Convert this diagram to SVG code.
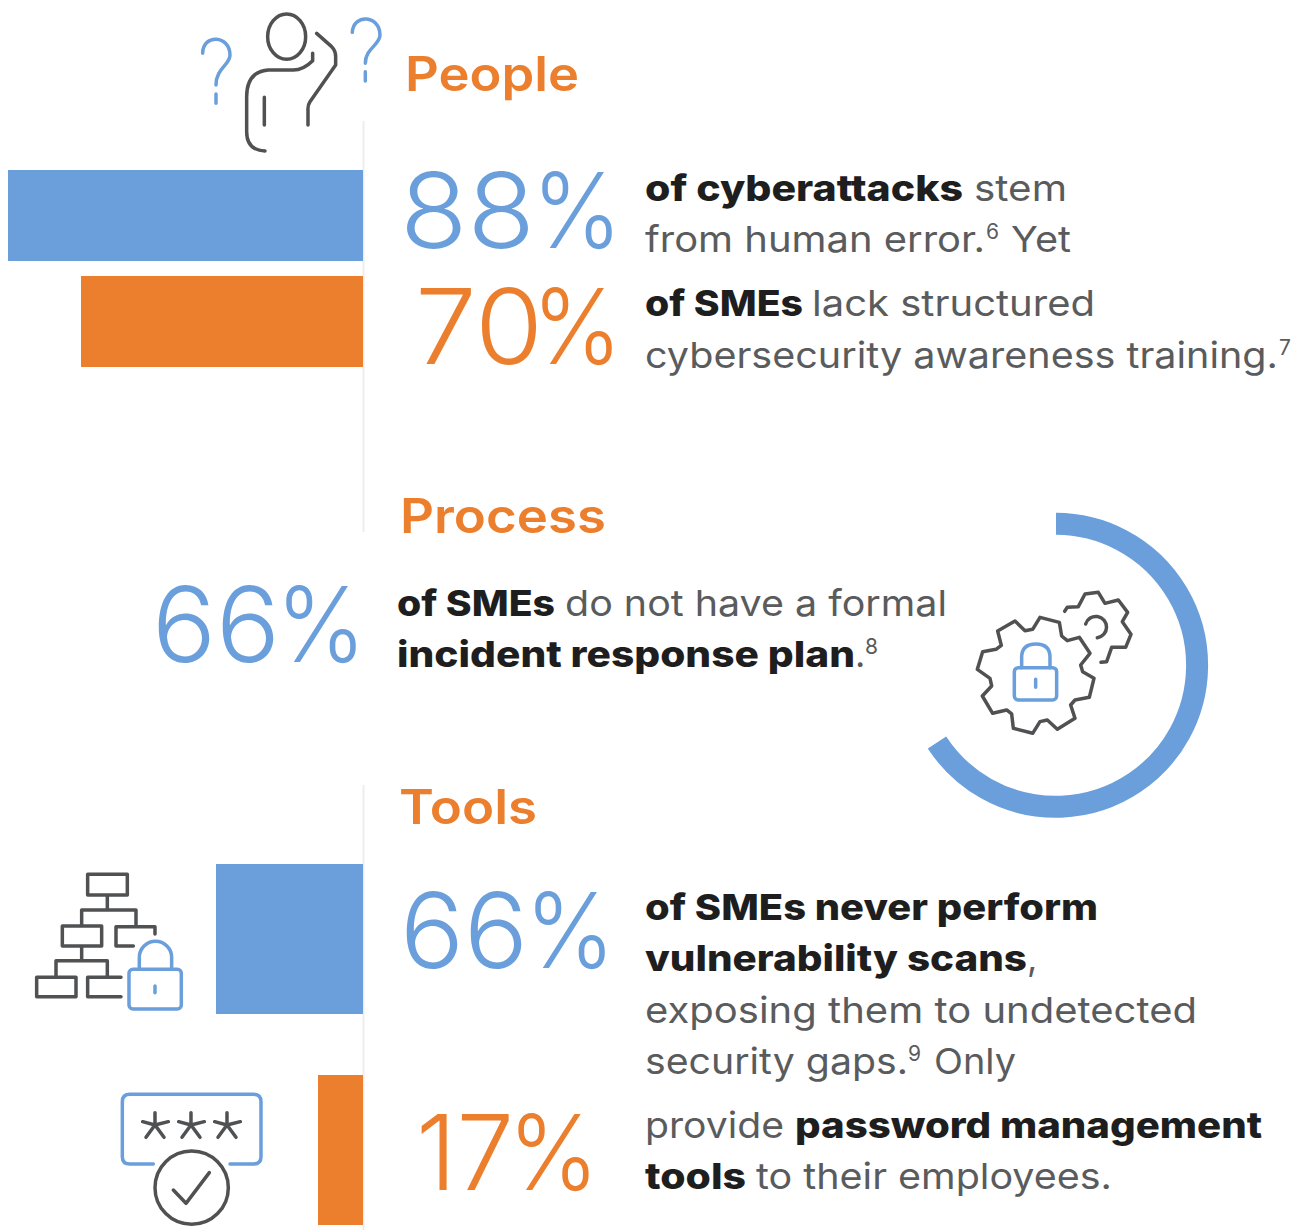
<svg xmlns="http://www.w3.org/2000/svg" width="1304" height="1230" viewBox="0 0 1304 1230">
<style>
text{font-family:"Inter","Liberation Sans",sans-serif}
.h{font-size:48px;font-weight:600;fill:#EB7F2E}
.nb,.no{font-size:104px;font-weight:300}
.nb{fill:#6A9FDB}.no{fill:#EB7F2E}
.b{font-size:36px;font-weight:800;fill:#1E1E1E}
.r{font-size:36px;font-weight:400;fill:#5A5B5D}
.s{font-size:21px;font-weight:400;fill:#5A5B5D}
.ic{fill:none;stroke:#505153;stroke-width:10.500;stroke-linecap:round;stroke-linejoin:round}
.ib{fill:none;stroke:#6A9FDB;stroke-width:10.500;stroke-linecap:round;stroke-linejoin:round}
.bb{fill:#6A9FDB}.bo{fill:#EB7F2E}
</style>
<g id="axis" fill="none" stroke="#EDEDED" stroke-width="2">
<path d="M363.500 121V532M363.500 785V1230"/>
</g>
<g id="people">
<rect class="bb" x="8" y="170" width="355" height="91"/>
<rect class="bo" x="81" y="276" width="282" height="91"/>
<g transform="translate(190,0) scale(.3333)">
<ellipse class="ic" cx="290" cy="110" rx="57" ry="68"/>
<path class="ic" d="M368,160V182Q340,210 310,210H235Q170,215 170,290V395Q170,450 225,453M223,292V375M380,100L425,140Q437,152 437,170V195L360,305Q353,315 354,330V375"/>
<path class="ib" d="M38,160C38,100 120,105 120,165C120,195 78,205 78,255M78,282V310M487,97C490,40 570,45 570,105C570,135 526,145 526,190M526,215V243"/>
</g>
<text class="h" x="405" y="91" textLength="174" lengthAdjust="spacingAndGlyphs">People</text>
<text class="nb" x="400" y="248" textLength="135" lengthAdjust="spacingAndGlyphs">88</text>
<text class="nb" x="532" y="248" textLength="90" lengthAdjust="spacingAndGlyphs">%</text>
<text class="no" x="415" y="364" textLength="128" lengthAdjust="spacingAndGlyphs">70</text>
<text class="no" x="532" y="364" textLength="90" lengthAdjust="spacingAndGlyphs">%</text>
<text class="b" x="645" y="201" textLength="318" lengthAdjust="spacingAndGlyphs">of cyberattacks</text>
<text class="r" x="974" y="201" textLength="93" lengthAdjust="spacingAndGlyphs">stem</text>
<text class="r" x="645" y="252" textLength="340" lengthAdjust="spacingAndGlyphs">from human error.</text>
<text class="s" x="986" y="239">6</text>
<text class="r" x="1011" y="252" textLength="60" lengthAdjust="spacingAndGlyphs">Yet</text>
<text class="b" x="645" y="316" textLength="158" lengthAdjust="spacingAndGlyphs">of SMEs</text>
<text class="r" x="812" y="316" textLength="283" lengthAdjust="spacingAndGlyphs">lack structured</text>
<text class="r" x="645" y="368" textLength="633" lengthAdjust="spacingAndGlyphs">cybersecurity awareness training.</text>
<text class="s" x="1279" y="355">7</text>
</g>
<g id="process">
<text class="h" x="400" y="533" textLength="206" lengthAdjust="spacingAndGlyphs">Process</text>
<text class="nb" x="152" y="662" textLength="128" lengthAdjust="spacingAndGlyphs">66</text>
<text class="nb" x="276" y="662" textLength="90" lengthAdjust="spacingAndGlyphs">%</text>
<text class="b" x="397" y="616" textLength="158" lengthAdjust="spacingAndGlyphs">of SMEs</text>
<text class="r" x="565" y="616" textLength="382" lengthAdjust="spacingAndGlyphs">do not have a formal</text>
<text class="b" x="397" y="667" textLength="458" lengthAdjust="spacingAndGlyphs">incident response plan</text>
<text class="r" x="855" y="667">.</text>
<text class="s" x="865" y="654">8</text>
<path d="M1056,523.800A141.500,141.500 0 1 1 937,742.500" fill="none" stroke="#6A9FDB" stroke-width="22"/>
<g transform="translate(960,570) scale(.3333)">
<path class="ic" d="M52,298L68,245L108,238L124,226L113,183L165,153L195,182L218,178L240,142L298,157L305,198L322,212L358,202L390,250L362,285L368,305L402,325L388,382L345,390L332,405L345,445L292,478L262,450L240,455L218,490L160,475L155,432L140,420L98,430L67,378L95,348L90,325Z"/>
<path class="ic" d="M314,124L322,112L355,110L375,72L415,67L435,100L475,90L503,127L487,155L513,193L497,232L455,232L440,275L423,277M377,162A32,32 0 1 1 412,203"/>
<rect class="ib" x="163" y="293" width="127" height="97" rx="12"/>
<path class="ib" d="M185,293V262Q185,222 228,222Q270,222 270,262V293M227,328V352"/>
</g>
</g>
<g id="tools">
<text class="h" x="399" y="824" textLength="138" lengthAdjust="spacingAndGlyphs">Tools</text>
<rect class="bb" x="216" y="864" width="147" height="150"/>
<rect class="bo" x="318" y="1075" width="45" height="150"/>
<g transform="translate(20,860) scale(.3333)">
<path class="ic" d="M203,43H322V105H203ZM262,105V150M185,198V150H348V200M405,222V200H288V258H340M127,198H245V258H127ZM185,258V302M108,350V302H262V350M50,352H168V410H50ZM303,352H203V410H303"/>
<rect class="ib" x="327" y="328" width="157" height="119" rx="12"/>
<path class="ib" d="M358,328V292A48,48 0 0 1 455,292V328M405,378V398"/>
</g>
<g transform="translate(110,1080) scale(.3333)">
<path class="ib" d="M130,252H60Q37,252 37,230V65Q37,43 60,43H430Q453,43 453,65V230Q453,252 430,252H360"/>
<circle class="ic" cx="245" cy="323" r="110"/>
<path class="ic" d="M190,330L228,370L298,278"/>
<path class="ic" d="M135,135V98M135,135L175,125M135,135L162,172M135,135L108,172M135,135L98,125M243,135V98M243,135L283,125M243,135L270,172M243,135L216,172M243,135L206,125M351,135V98M351,135L391,125M351,135L378,172M351,135L324,172M351,135L314,125"/>
</g>
<text class="nb" x="400" y="968" textLength="128" lengthAdjust="spacingAndGlyphs">66</text>
<text class="nb" x="525" y="968" textLength="90" lengthAdjust="spacingAndGlyphs">%</text>
<text class="no" x="416" y="1190" textLength="98" lengthAdjust="spacingAndGlyphs">17</text>
<text class="no" x="508" y="1190" textLength="91" lengthAdjust="spacingAndGlyphs">%</text>
<text class="b" x="645" y="920" textLength="453" lengthAdjust="spacingAndGlyphs">of SMEs never perform</text>
<text class="b" x="645" y="971" textLength="382" lengthAdjust="spacingAndGlyphs">vulnerability scans</text>
<text class="r" x="1027" y="971">,</text>
<text class="r" x="645" y="1023" textLength="552" lengthAdjust="spacingAndGlyphs">exposing them to undetected</text>
<text class="r" x="645" y="1074" textLength="263" lengthAdjust="spacingAndGlyphs">security gaps.</text>
<text class="s" x="908" y="1061">9</text>
<text class="r" x="934" y="1074" textLength="82" lengthAdjust="spacingAndGlyphs">Only</text>
<text class="r" x="645" y="1138" textLength="139" lengthAdjust="spacingAndGlyphs">provide</text>
<text class="b" x="795" y="1138" textLength="467" lengthAdjust="spacingAndGlyphs">password management</text>
<text class="b" x="645" y="1189" textLength="101" lengthAdjust="spacingAndGlyphs">tools</text>
<text class="r" x="756" y="1189" textLength="356" lengthAdjust="spacingAndGlyphs">to their employees.</text>
</g>
</svg>
